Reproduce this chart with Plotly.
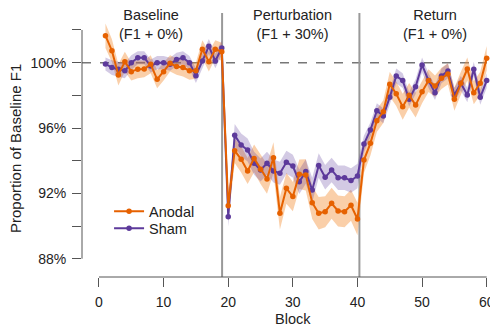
import plotly.graph_objects as go

# ---------------- data ----------------
blocks = list(range(1, 61))

anodal = [101.65, 100.73, 99.25, 100.06, 99.45, 99.60, 99.61, 99.90, 98.98, 99.45,
          99.96, 99.76, 99.70, 99.51, 99.51, 100.82, 100.06, 100.82, 100.67,
          91.24, 94.61, 94.08, 93.37, 94.14, 93.47, 92.88, 94.18, 90.78, 92.31, 91.80,
          93.17, 93.13, 91.43, 90.78, 90.88, 91.39, 90.92, 90.88, 91.27, 90.43,
          94.04, 95.06, 96.45, 97.00, 98.68, 98.10, 97.30, 98.00, 97.40, 98.22,
          98.90, 98.57, 99.04, 99.31, 97.76, 98.74, 99.61, 98.16, 98.74, 100.27]
anodal_se = [0.75, 0.70, 0.65, 0.60, 0.55, 0.55, 0.50, 0.55, 0.55, 0.55,
             0.50, 0.50, 0.55, 0.55, 0.50, 0.55, 0.60, 0.55, 0.55,
             0.90, 0.75, 0.80, 0.80, 0.85, 0.90, 0.90, 0.95, 1.00, 0.95, 0.90,
             0.90, 0.95, 1.00, 1.00, 0.95, 0.95, 0.95, 0.95, 0.95, 1.00,
             0.80, 0.75, 0.70, 0.70, 0.75, 0.75, 0.80, 0.75, 0.75, 0.70,
             0.70, 0.65, 0.65, 0.65, 0.70, 0.70, 0.70, 0.70, 0.70, 0.75]

sham = [99.92, 99.70, 99.60, 99.50, 100.00, 100.30, 100.30, 99.80, 100.00, 100.00,
        99.90, 100.20, 100.30, 100.00, 99.20, 100.10, 101.00, 100.10, 100.90,
        90.57, 95.55, 94.96, 94.65, 93.84, 93.43, 93.84, 93.37, 93.23, 93.90, 93.67,
        92.71, 93.33, 92.20, 93.71, 92.98, 93.43, 92.96, 92.96, 92.78, 93.06,
        95.02, 95.88, 97.06, 96.74, 97.88, 99.19, 98.90, 97.76, 98.53, 99.86,
        98.90, 98.16, 99.19, 99.49, 98.02, 98.74, 98.02, 99.60, 97.88, 98.90]
sham_se = [0.40, 0.45, 0.45, 0.45, 0.45, 0.40, 0.40, 0.40, 0.40, 0.40,
           0.40, 0.40, 0.40, 0.40, 0.45, 0.45, 0.45, 0.45, 0.45,
           0.60, 0.70, 0.70, 0.70, 0.70, 0.70, 0.70, 0.70, 0.70, 0.70, 0.70,
           0.75, 0.75, 0.75, 0.75, 0.75, 0.75, 0.75, 0.75, 0.75, 0.75,
           0.50, 0.45, 0.45, 0.45, 0.45, 0.45, 0.45, 0.45, 0.45, 0.45,
           0.45, 0.45, 0.45, 0.45, 0.45, 0.45, 0.45, 0.45, 0.45, 0.45]

phase_labels = ["Baseline<br>(F1 + 0%)", "Perturbation<br>(F1 + 30%)", "Return<br>(F1 + 0%)"]
phase_centers = [8, 30, 52]
phase_bounds = [19.05, 40.3]

x_tickvals = [0, 10, 20, 30, 40, 50, 60]
y_tickvals = [88, 90, 92, 94, 96, 98, 100, 102]
y_ticktext = ["88%", "", "92%", "", "96%", "", "100%", ""]

# ---------------- style ----------------
ORANGE = "#E66100"
PURPLE = "#5D3A9B"
ORANGE_BAND = "rgba(243,140,50,0.42)"
PURPLE_BAND = "rgba(93,58,155,0.27)"
FONT = "Liberation Sans, Arial, sans-serif"
TEXT = "#222222"
AXIS = "#555555"

fig = go.Figure()


def band(y, se, color):
    upper = [v + s for v, s in zip(y, se)]
    lower = [v - s for v, s in zip(y, se)]
    return go.Scatter(x=blocks + blocks[::-1], y=upper + lower[::-1],
                      fill="toself", fillcolor=color, line=dict(width=0),
                      mode="lines", hoverinfo="skip", showlegend=False)


fig.add_trace(band(anodal, anodal_se, ORANGE_BAND))
fig.add_trace(band(sham, sham_se, PURPLE_BAND))

fig.add_trace(go.Scatter(x=blocks, y=sham, mode="lines+markers", name="Sham",
                         line=dict(color=PURPLE, width=2),
                         marker=dict(color=PURPLE, size=5.5), legend="legend2"))
fig.add_trace(go.Scatter(x=blocks, y=anodal, mode="lines+markers", name="Anodal",
                         line=dict(color=ORANGE, width=2),
                         marker=dict(color=ORANGE, size=5.5), legend="legend"))

shapes = [
    dict(type="line", xref="paper", x0=0, x1=1, yref="y", y0=100, y1=100,
         line=dict(color="#777777", width=1.5, dash="dash"), layer="below"),
    dict(type="line", xref="x", x0=x_tickvals[0], x1=x_tickvals[-1], yref="paper", y0=0, y1=0,
         line=dict(color=AXIS, width=1)),
    dict(type="line", xref="paper", x0=0, x1=0, yref="y", y0=y_tickvals[0], y1=y_tickvals[-1],
         line=dict(color=AXIS, width=1)),
]
for b in phase_bounds:
    shapes.append(dict(type="line", xref="x", x0=b, x1=b, yref="paper", y0=0, y1=1.027,
                       line=dict(color="#999999", width=2), layer="below"))

annotations = []
for lab, cx in zip(phase_labels, phase_centers):
    annotations.append(dict(text=lab, x=cx, xref="x", y=0.981, yref="paper",
                            showarrow=False, xanchor="center", yanchor="middle",
                            font=dict(size=14.5, color=TEXT, family=FONT)))
annotations.append(dict(text="Proportion of Baseline F1", x=-0.161, xref="paper",
                        y=0.502, yref="paper", textangle=-90, showarrow=False,
                        xanchor="center", yanchor="middle",
                        font=dict(size=15, color=TEXT, family=FONT)))
annotations.append(dict(text="Block", x=0.5146, xref="paper", y=-0.164, yref="paper",
                        showarrow=False, xanchor="center", yanchor="middle",
                        font=dict(size=14.5, color=TEXT, family=FONT)))

legend_style = dict(xanchor="left", yanchor="top", bgcolor="rgba(0,0,0,0)",
                    borderwidth=0, font=dict(size=14.5, color=TEXT, family=FONT))

# the page body adds an 8px offset, so the figure is smaller and margins are shifted
fig.update_layout(
    width=490, height=318,
    margin=dict(l=74, r=6, t=12, b=49, pad=0),
    paper_bgcolor="white", plot_bgcolor="white",
    font=dict(family=FONT, color=TEXT, size=14),
    showlegend=True,
    legend=dict(x=0.066, y=0.318, **legend_style),
    legend2=dict(x=0.066, y=0.252, **legend_style),
    shapes=shapes,
    annotations=annotations,
    xaxis=dict(range=[-2.63, 60.82], tickvals=x_tickvals, ticks="outside", ticklen=9,
               tickcolor=AXIS, tickwidth=1, showgrid=False, zeroline=False,
               showline=False, automargin=False, ticklabelstandoff=3,
               tickfont=dict(size=14, color=TEXT, family=FONT)),
    yaxis=dict(range=[86.88, 102.61], tickvals=y_tickvals, ticktext=y_ticktext,
               ticks="outside", ticklen=9, tickcolor=AXIS, tickwidth=1,
               showgrid=False, zeroline=False, showline=False, ticklabelstandoff=3,
               automargin=False,
               tickfont=dict(size=14, color=TEXT, family=FONT)),
)

fig.write_html("out.html")
